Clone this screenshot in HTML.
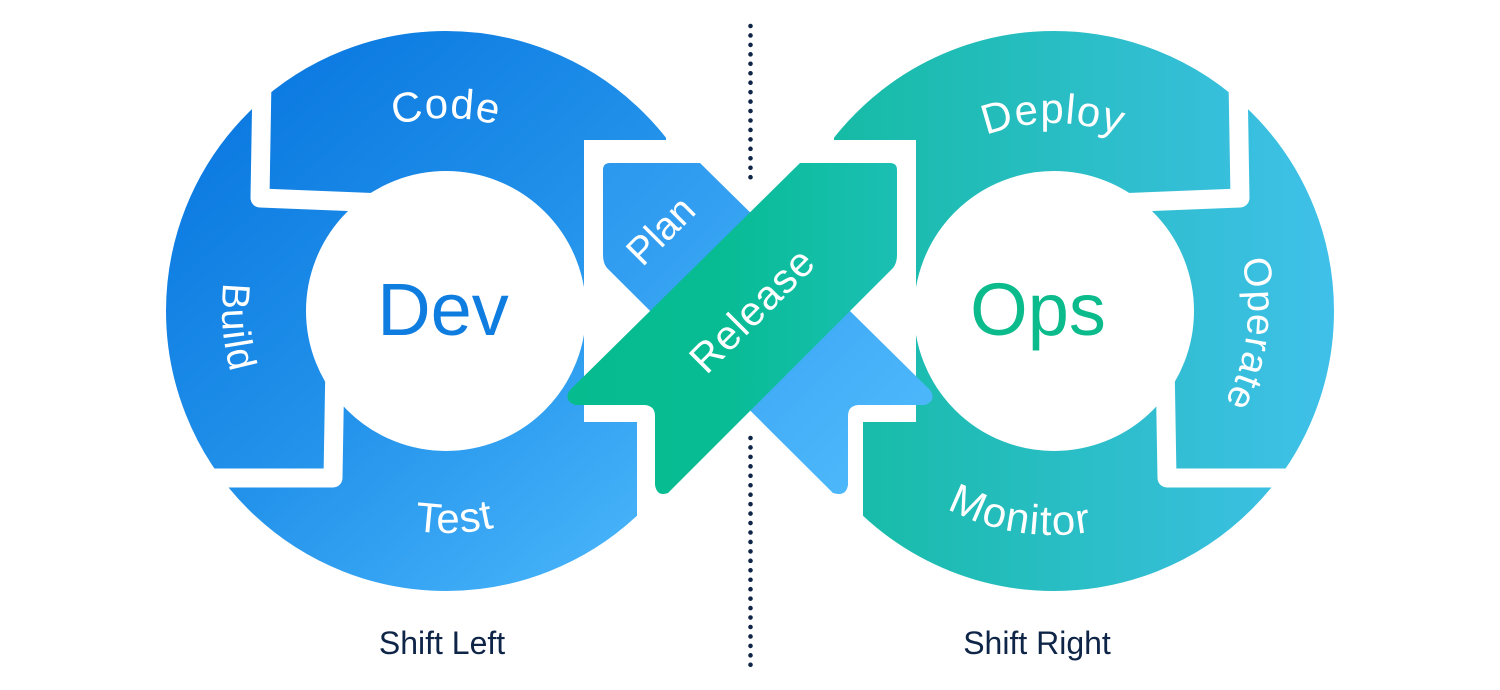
<!DOCTYPE html>
<html><head><meta charset="utf-8"><style>
html,body{margin:0;padding:0;background:#fff;}
svg{display:block;}
text{font-family:"Liberation Sans",sans-serif;}
</style></head><body>
<svg width="1500" height="690" viewBox="0 0 1500 690" xmlns="http://www.w3.org/2000/svg">
<defs>
<linearGradient id="gl" gradientUnits="userSpaceOnUse" x1="230" y1="80" x2="640" y2="560">
<stop offset="0" stop-color="#0a78e0"/><stop offset="0.5" stop-color="#2191ea"/><stop offset="1" stop-color="#48b4fa"/>
</linearGradient>
<linearGradient id="gr" gradientUnits="userSpaceOnUse" x1="830" y1="0" x2="1335" y2="0">
<stop offset="0" stop-color="#15bba4"/><stop offset="1" stop-color="#40c0ea"/>
</linearGradient>
<linearGradient id="gplan" gradientUnits="userSpaceOnUse" x1="603" y1="163" x2="930" y2="495">
<stop offset="0" stop-color="#2b97ee"/><stop offset="1" stop-color="#52bcfd"/>
</linearGradient>
<linearGradient id="grel" gradientUnits="userSpaceOnUse" x1="570" y1="0" x2="897" y2="0">
<stop offset="0" stop-color="#06bb8e"/><stop offset="0.45" stop-color="#07bc93"/><stop offset="1" stop-color="#1bbfb4"/>
</linearGradient>
<clipPath id="cl"><polygon points="0,0 666,0 666,140 584,140 584,422 637,422 637,700 0,700"/></clipPath>
<clipPath id="cr"><polygon points="1500,0 834,0 834,140 916,140 916,422 863,422 863,700 1500,700"/></clipPath>
<path id="pTopL" d="M254,310 A192,192 0 0 1 638,310"/>
<path id="pTopR" d="M866,310 A187,187 0 0 1 1240,310"/>
<path id="pBotL" d="M223,310 A223,223 0 0 0 669,310"/>
<path id="pBotR" d="M828,310 A225,225 0 0 0 1278,310"/>
<path id="pBuild" d="M446,86 A224,224 0 0 0 446,534"/>
<path id="pOper" d="M1053,115 A195,195 0 0 1 1053,505"/>
</defs>

<g clip-path="url(#cl)">
<circle cx="446" cy="311" r="210" fill="none" stroke="url(#gl)" stroke-width="140"/>
</g>
<polyline points="263,20 260,198 385,203" fill="none" stroke="#fff" stroke-width="19" stroke-linejoin="round"/>
<polyline points="150,478 333,478 335,360" fill="none" stroke="#fff" stroke-width="19" stroke-linejoin="round"/>

<g clip-path="url(#cr)">
<circle cx="1054" cy="311" r="210" fill="none" stroke="url(#gr)" stroke-width="140"/>
</g>
<polyline points="1237,20 1240,198 1115,203" fill="none" stroke="#fff" stroke-width="19" stroke-linejoin="round"/>
<polyline points="1350,478 1167,478 1165,360" fill="none" stroke="#fff" stroke-width="19" stroke-linejoin="round"/>

<path d="M610,163 L700,163 L930,390 Q937,400 925,405 L858,405 Q848,406 848,416 L848,485 Q846,497 833,493 L607,268 Q603,263 603,255 L603,170 Q603,163 610,163 Z" fill="url(#gplan)"/>
<path d="M890,163 L800,163 L570,390 Q563,400 575,405 L645,405 Q655,406 655,416 L655,485 Q657,497 668,493 L893,268 Q897,263 897,255 L897,170 Q897,163 890,163 Z" fill="url(#grel)"/>

<line x1="750.5" y1="26" x2="750.5" y2="180" stroke="#0f2548" stroke-width="4.6" stroke-linecap="round" stroke-dasharray="0 9.45"/>
<line x1="750.5" y1="438" x2="750.5" y2="665" stroke="#0f2548" stroke-width="4.6" stroke-linecap="round" stroke-dasharray="0 9.45"/>

<g fill="#fff" font-size="42">
<text text-anchor="middle" letter-spacing="1"><textPath href="#pTopL" startOffset="50%">Code</textPath></text>
<text text-anchor="middle" letter-spacing="1"><textPath href="#pTopR" startOffset="50%">Deploy</textPath></text>
<text text-anchor="middle" letter-spacing="1"><textPath href="#pBotL" startOffset="51.3%">Test</textPath></text>
<text text-anchor="middle" letter-spacing="1.5"><textPath href="#pBotR" startOffset="45%">Monitor</textPath></text>
<text text-anchor="middle" font-size="39" letter-spacing="1"><textPath href="#pBuild" startOffset="52.6%">Build</textPath></text>
<text text-anchor="middle" font-size="39" letter-spacing="1"><textPath href="#pOper" startOffset="53.8%">Operate</textPath></text>
<text x="0" y="0" text-anchor="middle" font-size="39" transform="translate(670,240) rotate(-45)">Plan</text>
<text x="0" y="0" text-anchor="middle" font-size="41" letter-spacing="1" transform="translate(762,320) rotate(-45)">Release</text>
</g>
<text x="443" y="335" text-anchor="middle" font-size="74" fill="#0f7de0">Dev</text>
<text x="1038" y="335" text-anchor="middle" font-size="74" fill="#0bbb8c">Ops</text>
<text x="442" y="654" text-anchor="middle" font-size="32" fill="#0f2548">Shift Left</text>
<text x="1037" y="654" text-anchor="middle" font-size="32" fill="#0f2548">Shift Right</text>
</svg>
</body></html>
